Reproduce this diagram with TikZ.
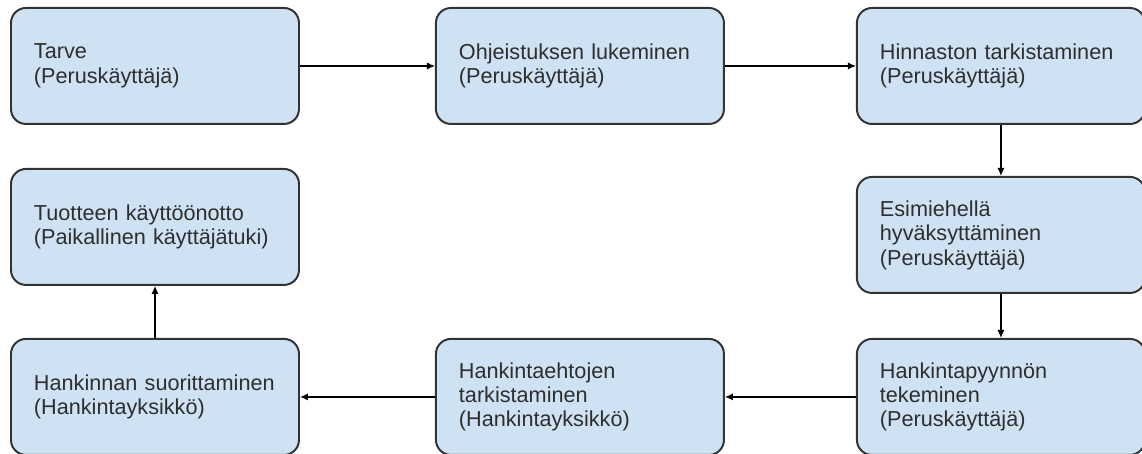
\documentclass[tikz,border=0pt]{standalone}
\usepackage{fontspec}
\setmainfont{Liberation Sans}
\usepackage{tikz}
\usetikzlibrary{positioning,arrows.meta}
\definecolor{boxfill}{HTML}{CFE2F3}
\definecolor{boxline}{HTML}{333333}
\definecolor{boxtext}{HTML}{2E2E2E}

\begin{document}
\begin{tikzpicture}[
        step box/.style={draw=boxline, fill=boxfill, line width=1.4pt,
            rounded corners=0.375cm, minimum height=2.9cm,
            text width=6.05cm, inner xsep=0.575cm, align=left,
            text=boxtext, font=\fontsize{15.4}{17.4}\selectfont},
        flow arrow/.style={line width=0.9pt, -{Latex[length=0.2cm, width=0.18cm]}}
    ]
    \useasboundingbox (0,0) rectangle (28.55,-11.35);

    \node[step box, anchor=north west] (tarve box) at (0.25,-0.175)
        {Tarve\\(Peruskäyttäjä)};
    \node[step box, right=3.375cm of tarve box] (ohjeistus box)
        {Ohjeistuksen lukeminen\\(Peruskäyttäjä)};
    \node[step box, right=3.275cm of ohjeistus box] (hinnasto box)
        {Hinnaston tarkistaminen\\(Peruskäyttäjä)};
    \node[step box, below=1.275cm of hinnasto box] (esimies box)
        {Esimiehellä\\hyväksyttäminen\\(Peruskäyttäjä)};
    \node[step box, below=1.1cm of esimies box] (pyynto box)
        {Hankintapyynnön\\tekeminen\\(Peruskäyttäjä)};
    \node[step box, left=3.275cm of pyynto box] (ehdot box)
        {Hankintaehtojen\\tarkistaminen\\(Hankintayksikkö)};
    \node[step box, left=3.375cm of ehdot box] (suoritus box)
        {Hankinnan suorittaminen\\(Hankintayksikkö)};
    \node[step box, above=1.3cm of suoritus box] (kaytto box)
        {Tuotteen käyttöönotto\\(Paikallinen käyttäjätuki)};

    \draw[flow arrow] (tarve box) -- (ohjeistus box);
    \draw[flow arrow] (ohjeistus box) -- (hinnasto box);
    \draw[flow arrow] (hinnasto box) -- (esimies box);
    \draw[flow arrow] (esimies box) -- (pyynto box);
    \draw[flow arrow] (pyynto box) -- (ehdot box);
    \draw[flow arrow] (ehdot box) -- (suoritus box);
    \draw[flow arrow] (suoritus box) -- (kaytto box);
\end{tikzpicture}
\end{document}
